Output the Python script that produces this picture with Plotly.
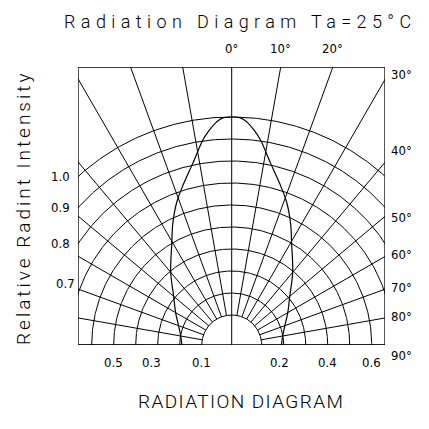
import numpy as np
import plotly.graph_objects as go

# ---------------- data ----------------
grid_angles = [0, 10, 20, 30, 40, 50, 60, 70, 80, 90]          # degrees off axis
grid_levels = [0.1, 0.2, 0.3, 0.4, 0.5, 0.6, 0.7, 0.8, 0.9, 1.0]  # relative intensity rings
curve_angles = [0, 2.5, 4, 6, 8, 12, 16.5, 21, 26, 30.5, 40, 50, 60, 71, 80, 90]
curve_levels = [1.0, 0.995, 0.978, 0.945, 0.905, 0.81, 0.73, 0.66, 0.575, 0.50,
                0.395, 0.308, 0.258, 0.218, 0.199, 0.19]
top_angle_labels = ["0°", "10°", "20°"]
right_angle_labels = ["30°", "40°", "50°", "60°", "70°", "80°", "90°"]
left_level_labels = ["1.0", "0.9", "0.8", "0.7"]
bottom_level_labels = ["0.1", "0.2", "0.3", "0.4", "0.5", "0.6"]

# ---------------- geometry / style ----------------
W = H = 429
PAGE = 8                            # page body offset
L, R, T, B = 78, 385, 67, 345      # plot box in screen px
CX = 231.7                          # 0 deg axis in px
S = 220.0                           # px per unit intensity
OFF = 8.0 / S                       # ring radius offset
xr = [(L - CX) / S, (R - CX) / S]
yr = [0, (B - T) / S]
right_label_shift = [3, 10, -3, 0, 0, -1, -4]   # px nudges for right labels
left_label_shift = [0, 0, 0, 5]
bottom_label_shift = [0, -4, -6, 0, 0, 0]

def rho(v):
    return OFF + v

def polar(theta_deg, v):
    t = np.radians(np.asarray(theta_deg, dtype=float))
    r = rho(np.asarray(v, dtype=float))
    return r * np.sin(t), r * np.cos(t)

def px(x):
    return (x - L) / (R - L)

def py(y):
    return (B - y) / (B - T)

fig = go.Figure()
line_style = dict(color="black", width=1)

# rings
for v in grid_levels:
    th = np.linspace(-90, 90, 361)
    x, y = polar(th, np.full_like(th, v))
    fig.add_trace(go.Scatter(x=x, y=y, mode="lines", line=line_style, hoverinfo="skip"))

# radial lines
inner = grid_levels[0]
for a in grid_angles:
    for sgn in ([1] if a == 0 else [-1, 1]):
        start = -OFF if a == 0 else inner
        x, y = polar([sgn * a, sgn * a], [start, 3.0])
        fig.add_trace(go.Scatter(x=x, y=y, mode="lines", line=line_style, hoverinfo="skip"))

# radiation curve (symmetric)
ca = [-a for a in curve_angles[::-1]] + curve_angles[1:]
cv = curve_levels[::-1] + curve_levels[1:]
x, y = polar(ca, cv)
fig.add_trace(go.Scatter(x=x, y=y, mode="lines", line=dict(color="black", width=1.2),
                         line_shape="spline", hoverinfo="skip"))

fig.add_shape(type="rect", xref="x", yref="y", x0=xr[0], x1=xr[1], y0=yr[0], y1=yr[1],
              line=dict(color="black", width=1.3))

tick_font = dict(family="Liberation Sans Narrow, DejaVu Sans Condensed, Arial Narrow", size=13, color="black")
ann = []
for lab, a in zip(top_angle_labels, grid_angles[:3]):
    xt = yr[1] * np.tan(np.radians(a))
    ann.append(dict(x=xt, y=yr[1], xref="x", yref="y", text=lab, showarrow=False,
                    yanchor="bottom", yshift=9, font=tick_font))
for lab, a, sh in zip(right_angle_labels, grid_angles[3:], right_label_shift):
    ya = xr[1] / np.tan(np.radians(a)) if a < 90 else 0.0
    ann.append(dict(x=xr[1], y=ya, xref="x", yref="y", text=lab, showarrow=False,
                    xanchor="left", xshift=4, yshift=(-6 if a == 90 else 2) + sh, font=tick_font))
for lab, sh in zip(left_level_labels, left_label_shift):
    v = float(lab)
    yl = np.sqrt(max(rho(v) ** 2 - xr[0] ** 2, 0))
    ann.append(dict(x=xr[0], y=yl, xref="x", yref="y", text=lab, showarrow=False,
                    xanchor="right", xshift=-6 + sh, yshift=(10 if v < 0.75 else 0), font=tick_font))
for i, (lab, sh) in enumerate(zip(bottom_level_labels, bottom_label_shift)):
    v = float(lab)
    sgn = -1 if i % 2 == 0 else 1
    ann.append(dict(x=sgn * rho(v), y=0, xref="x", yref="y", text=lab, showarrow=False,
                    yanchor="top", yshift=-8, xshift=sh, font=tick_font))

tfam = "Roboto, Lato, DejaVu Sans"
ann.append(dict(x=px(240), y=py(22), xref="paper", yref="paper", xanchor="center", yanchor="middle",
                text="<span style='letter-spacing:5.4px'>Radiation Diagram Ta=25°C</span>",
                showarrow=False, font=dict(family=tfam, size=18, color="black", weight=300)))
ann.append(dict(x=px(23), y=py(208), xref="paper", yref="paper", xanchor="center", yanchor="middle",
                text="<span style='letter-spacing:3px'>Relative Radint Intensity</span>",
                textangle=-90, showarrow=False,
                font=dict(family=tfam, size=19, color="black", weight=300)))
ann.append(dict(x=px(241), y=py(401), xref="paper", yref="paper", xanchor="center", yanchor="middle",
                text="<span style='letter-spacing:1.4px'>RADIATION DIAGRAM</span>",
                showarrow=False, font=dict(family=tfam, size=19, color="black", weight=300)))

fig.update_layout(
    width=W, height=H, showlegend=False,
    margin=dict(l=L - PAGE, r=W - (R - PAGE), t=T - PAGE, b=H - (B - PAGE), pad=0),
    paper_bgcolor="white", plot_bgcolor="white",
    xaxis=dict(range=xr, visible=False, fixedrange=True),
    yaxis=dict(range=yr, visible=False, fixedrange=True),
    annotations=ann,
)
fig.write_html("out.html")
